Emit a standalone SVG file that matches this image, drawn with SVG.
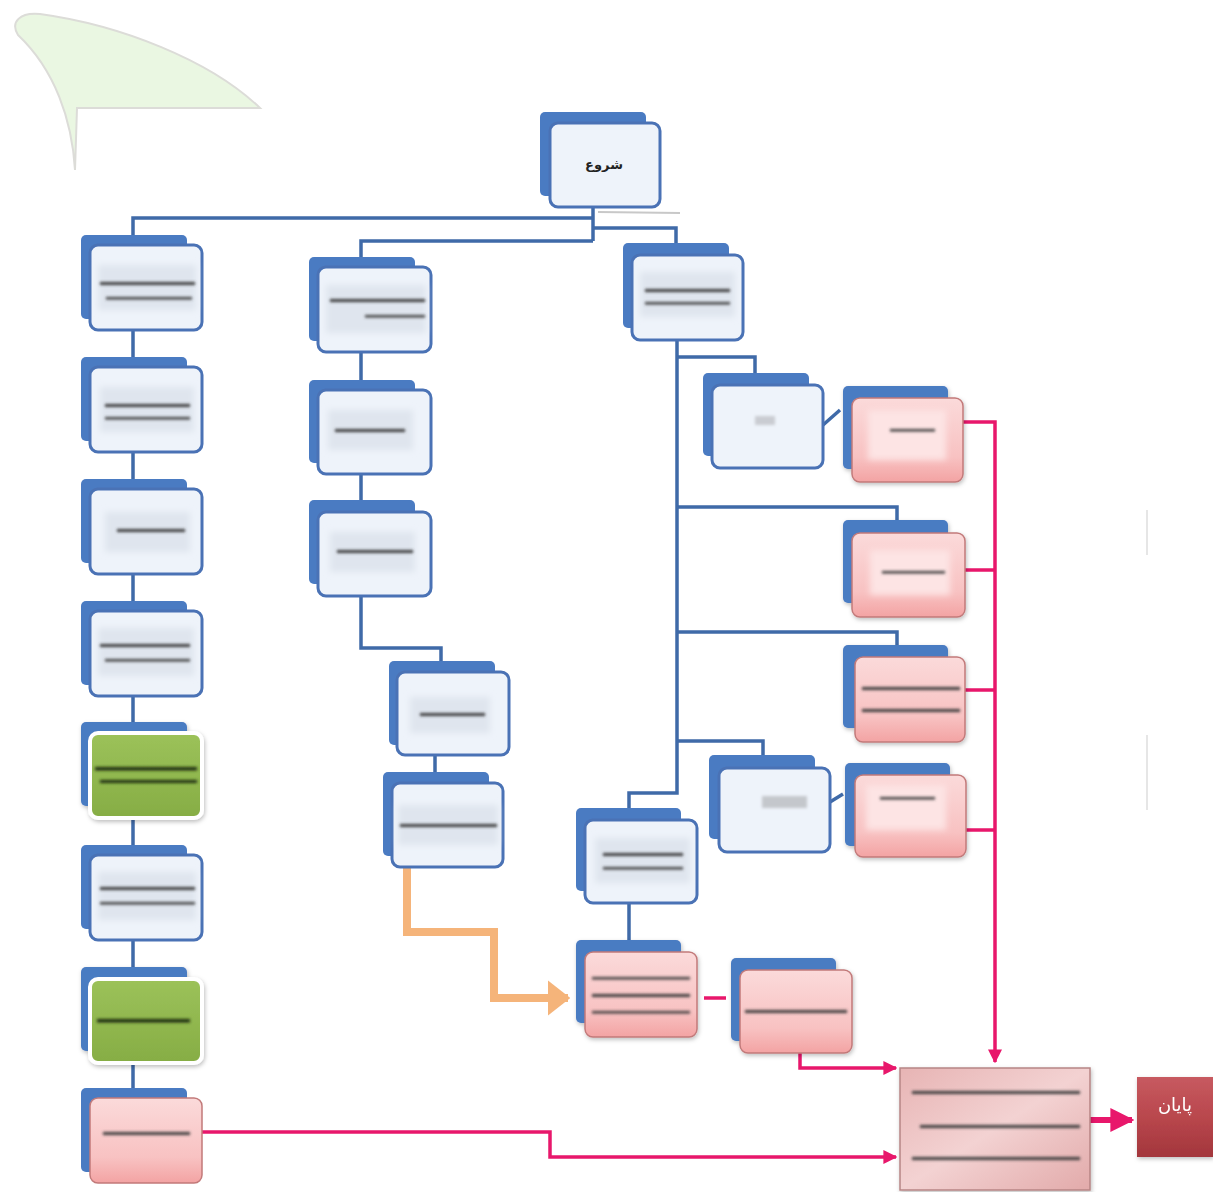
<svg xmlns="http://www.w3.org/2000/svg" width="1213" height="1192" viewBox="0 0 1213 1192">
<style>
.back{fill:#4a7bc2}
.front{fill:#eef3fa;stroke:#4a72b5;stroke-width:3}
.pink{fill:url(#gPink);stroke:#c27a7a;stroke-width:1.5}
.green{fill:url(#gGreen);stroke:#ffffff;stroke-width:4}
.ln{fill:#3b3b3b;filter:url(#blur)}
.gln{fill:#1e2a10;filter:url(#blur)}
.patch{fill:#dfe5ee;filter:url(#blur2)}
.conn{fill:none;stroke:#3f6aa8;stroke-width:3.5}
.pk{fill:none;stroke:#e8176b;stroke-width:3.5}
.lbl{font-family:"DejaVu Sans","Noto Sans",sans-serif}
</style>
<defs>
<filter id="blur" x="-20%" y="-300%" width="140%" height="700%"><feGaussianBlur stdDeviation="1.8"/></filter>
<filter id="blur2" x="-20%" y="-50%" width="140%" height="200%"><feGaussianBlur stdDeviation="3"/></filter>
<filter id="shadow" x="-10%" y="-10%" width="130%" height="130%"><feDropShadow dx="1" dy="2" stdDeviation="2" flood-color="#000" flood-opacity="0.25"/></filter>
<linearGradient id="gPink" x1="0" y1="0" x2="0" y2="1"><stop offset="0" stop-color="#fbdada"/><stop offset="0.7" stop-color="#f8c2c2"/><stop offset="1" stop-color="#f3a3a3"/></linearGradient>
<linearGradient id="gGreen" x1="0" y1="0" x2="0" y2="1"><stop offset="0" stop-color="#9cc25a"/><stop offset="1" stop-color="#86ad44"/></linearGradient>
<linearGradient id="gFinal" x1="0" y1="0" x2="1" y2="1"><stop offset="0" stop-color="#e7b4b4"/><stop offset="0.5" stop-color="#f3d2d2"/><stop offset="1" stop-color="#e2aaaa"/></linearGradient>
<linearGradient id="gEnd" x1="0" y1="0" x2="0" y2="1"><stop offset="0" stop-color="#c75a60"/><stop offset="0.5" stop-color="#b9474d"/><stop offset="1" stop-color="#a3363c"/></linearGradient>
<marker id="aPk" viewBox="0 0 10 10" refX="9" refY="5" markerWidth="4" markerHeight="4" orient="auto"><path d="M0,0L10,5L0,10z" fill="#e8176b"/></marker>
<marker id="aOr" viewBox="0 0 10 10" refX="9" refY="5" markerWidth="2.8" markerHeight="4.4" orient="auto" preserveAspectRatio="none"><path d="M0,0L10,5L0,10z" fill="#f5b47a"/></marker>
</defs>
<rect width="1213" height="1192" fill="#ffffff"/>
<path d="M75,170 C72,120 55,70 18,35 C10,22 20,12 40,14 C120,25 210,60 260,108 L77,108 Z" fill="#eaf7e2" stroke="#dcdcd8" stroke-width="2"/>
<line x1="1147" y1="510" x2="1147" y2="555" stroke="#e6e6e6" stroke-width="2"/>
<line x1="1147" y1="735" x2="1147" y2="810" stroke="#e6e6e6" stroke-width="2"/>

<g id="connectors">
<line x1="598" y1="212" x2="680" y2="213" stroke="#c8c8c8" stroke-width="2"/>
<path class="conn" d="M593,207V241"/>
<path class="conn" d="M593,218H133V237"/>
<path class="conn" d="M593,228H676V243"/>
<path class="conn" d="M593,241H361V257"/>
<path class="conn" d="M133,330V357M133,452V479M133,574V601M133,696V722M133,818V845M133,940V967M133,1063V1088"/>
<path class="conn" d="M361,352V380M361,474V500M361,596V648H441V661M435,755V772"/>
<path class="conn" d="M677,340V793H629V808"/>
<path class="conn" d="M677,357H755V373M677,507H897V520M677,632H897V645M677,741H763V755"/>
<path class="conn" d="M823,425L840,410M830,802L843,794M629,903V940"/>
<path d="M407,867V932H494V998H568" fill="none" stroke="#f5b47a" stroke-width="8" marker-end="url(#aOr)"/>
<path class="pk" d="M704,998H726"/>
<path class="pk" d="M963,422H995V1062" marker-end="url(#aPk)"/>
<path class="pk" d="M965,570H995M965,690H995M966,830H995"/>
<path class="pk" d="M800,1053V1068H896" marker-end="url(#aPk)"/>
<path class="pk" d="M202,1132H550V1157H896" marker-end="url(#aPk)"/>
<path d="M1090,1120H1132" fill="none" stroke="#e8176b" stroke-width="6" marker-end="url(#aPk)"/>
</g>

<g id="start">
<rect class="back" x="540" y="112" width="106" height="84" rx="5"/>
<rect class="front" x="550" y="123" width="110" height="84" rx="8"/>
<text class="lbl" x="604" y="169" font-size="13" font-weight="bold" text-anchor="middle" fill="#222">شروع</text>
</g>

<g id="left1"><rect class="back" x="81" y="235" width="106" height="84" rx="5"/><rect class="front" x="90" y="245" width="112" height="85" rx="8"/><rect class="patch" x="98" y="265" width="98" height="45"/><rect class="ln" x="100" y="282" width="95" height="3"/><rect class="ln" x="106" y="297" width="86" height="2.5"/></g>
<g id="left2"><rect class="back" x="81" y="357" width="106" height="84" rx="5"/><rect class="front" x="90" y="367" width="112" height="85" rx="8"/><rect class="patch" x="100" y="387" width="94" height="45"/><rect class="ln" x="105" y="404" width="85" height="3"/><rect class="ln" x="105" y="417" width="85" height="2.5"/></g>
<g id="left3"><rect class="back" x="81" y="479" width="106" height="84" rx="5"/><rect class="front" x="90" y="489" width="112" height="85" rx="8"/><rect class="patch" x="105" y="512" width="85" height="40"/><rect class="ln" x="117" y="529" width="68" height="3"/></g>
<g id="left4"><rect class="back" x="81" y="601" width="106" height="84" rx="5"/><rect class="front" x="90" y="611" width="112" height="85" rx="8"/><rect class="patch" x="98" y="628" width="96" height="48"/><rect class="ln" x="100" y="644" width="90" height="3"/><rect class="ln" x="105" y="659" width="85" height="2.5"/></g>
<g id="left5" filter="url(#shadow)"><rect class="back" x="81" y="722" width="106" height="84" rx="5"/><rect class="green" x="90" y="733" width="112" height="85" rx="8"/><rect class="gln" x="95" y="767" width="102" height="3.5"/><rect class="gln" x="100" y="780" width="97" height="3"/></g>
<g id="left6"><rect class="back" x="81" y="845" width="106" height="84" rx="5"/><rect class="front" x="90" y="855" width="112" height="85" rx="8"/><rect class="patch" x="98" y="872" width="98" height="48"/><rect class="ln" x="100" y="887" width="95" height="3"/><rect class="ln" x="100" y="902" width="95" height="2.5"/></g>
<g id="left7" filter="url(#shadow)"><rect class="back" x="81" y="967" width="106" height="84" rx="5"/><rect class="green" x="90" y="979" width="112" height="84" rx="8"/><rect class="gln" x="97" y="1019" width="93" height="3.5"/></g>
<g id="left8"><rect class="back" x="81" y="1088" width="106" height="84" rx="5"/><rect class="pink" x="90" y="1098" width="112" height="85" rx="8"/><rect class="ln" x="103" y="1132" width="87" height="3"/></g>

<g id="mid1"><rect class="back" x="309" y="257" width="106" height="84" rx="5"/><rect class="front" x="318" y="267" width="113" height="85" rx="8"/><rect class="patch" x="326" y="285" width="100" height="48"/><rect class="ln" x="330" y="299" width="95" height="3"/><rect class="ln" x="365" y="315" width="60" height="2.5"/></g>
<g id="mid2"><rect class="back" x="309" y="380" width="106" height="83" rx="5"/><rect class="front" x="318" y="390" width="113" height="84" rx="8"/><rect class="patch" x="328" y="410" width="85" height="40"/><rect class="ln" x="335" y="429" width="70" height="3"/></g>
<g id="mid3"><rect class="back" x="309" y="500" width="106" height="84" rx="5"/><rect class="front" x="318" y="512" width="113" height="84" rx="8"/><rect class="patch" x="330" y="532" width="85" height="40"/><rect class="ln" x="337" y="550" width="76" height="3"/></g>
<g id="mid4"><rect class="back" x="389" y="661" width="106" height="84" rx="5"/><rect class="front" x="397" y="672" width="112" height="83" rx="8"/><rect class="patch" x="410" y="697" width="80" height="36"/><rect class="ln" x="420" y="713" width="65" height="3"/></g>
<g id="mid5"><rect class="back" x="383" y="772" width="106" height="84" rx="5"/><rect class="front" x="392" y="783" width="111" height="84" rx="8"/><rect class="patch" x="398" y="805" width="100" height="40"/><rect class="ln" x="400" y="824" width="97" height="3"/></g>

<g id="right1"><rect class="back" x="623" y="243" width="106" height="85" rx="5"/><rect class="front" x="632" y="255" width="111" height="85" rx="8"/><rect class="patch" x="640" y="272" width="95" height="45"/><rect class="ln" x="645" y="289" width="85" height="3"/><rect class="ln" x="645" y="302" width="85" height="2.5"/></g>
<g id="right2"><rect class="back" x="703" y="373" width="106" height="83" rx="5"/><rect class="front" x="712" y="385" width="111" height="83" rx="8"/><rect x="755" y="416" width="20" height="9" fill="#c9ccd2" filter="url(#blur)"/></g>
<g id="right3"><rect class="back" x="709" y="755" width="106" height="84" rx="5"/><rect class="front" x="719" y="768" width="111" height="84" rx="8"/><rect x="762" y="796" width="45" height="12" fill="#c4c7cc" filter="url(#blur)"/></g>
<g id="right4"><rect class="back" x="576" y="808" width="105" height="83" rx="5"/><rect class="front" x="585" y="820" width="112" height="83" rx="8"/><rect class="patch" x="595" y="838" width="95" height="45"/><rect class="ln" x="603" y="853" width="80" height="3"/><rect class="ln" x="603" y="867" width="80" height="2.5"/></g>

<g id="pink1" filter="url(#shadow)"><rect class="back" x="843" y="386" width="105" height="83" rx="5"/><rect class="pink" x="852" y="398" width="111" height="84" rx="8"/><rect x="868" y="410" width="78" height="50" fill="#fde4e4" filter="url(#blur2)"/><rect class="ln" x="890" y="429" width="45" height="2.5"/></g>
<g id="pink2" filter="url(#shadow)"><rect class="back" x="843" y="520" width="105" height="83" rx="5"/><rect class="pink" x="852" y="533" width="113" height="84" rx="8"/><rect x="870" y="550" width="80" height="45" fill="#fde4e4" filter="url(#blur2)"/><rect class="ln" x="882" y="571" width="63" height="2.5"/></g>
<g id="pink3" filter="url(#shadow)"><rect class="back" x="843" y="645" width="105" height="83" rx="5"/><rect class="pink" x="855" y="657" width="110" height="85" rx="8"/><rect class="ln" x="862" y="687" width="98" height="3"/><rect class="ln" x="862" y="709" width="98" height="3"/></g>
<g id="pink4" filter="url(#shadow)"><rect class="back" x="845" y="763" width="105" height="83" rx="5"/><rect class="pink" x="855" y="775" width="111" height="82" rx="8"/><rect x="866" y="785" width="80" height="45" fill="#fde4e4" filter="url(#blur2)"/><rect class="ln" x="880" y="797" width="55" height="2.5"/></g>
<g id="pink5" filter="url(#shadow)"><rect class="back" x="576" y="940" width="105" height="83" rx="5"/><rect class="pink" x="585" y="952" width="112" height="85" rx="8"/><rect class="ln" x="592" y="977" width="98" height="2.5"/><rect class="ln" x="592" y="994" width="98" height="3"/><rect class="ln" x="592" y="1011" width="98" height="2.5"/></g>
<g id="pink6" filter="url(#shadow)"><rect class="back" x="731" y="958" width="105" height="83" rx="5"/><rect class="pink" x="740" y="970" width="112" height="83" rx="8"/><rect class="ln" x="745" y="1010" width="102" height="3"/></g>

<g id="final" filter="url(#shadow)"><rect x="900" y="1068" width="190" height="122" fill="url(#gFinal)" stroke="#b78585" stroke-width="1.5"/><rect class="ln" x="912" y="1091" width="168" height="3"/><rect class="ln" x="920" y="1125" width="160" height="3"/><rect class="ln" x="912" y="1157" width="168" height="3"/></g>
<g id="end" filter="url(#shadow)"><rect x="1137" y="1077" width="76" height="80" fill="url(#gEnd)"/><text class="lbl" x="1175" y="1111" font-size="18" text-anchor="middle" fill="#ffffff">پایان</text></g>
</svg>
